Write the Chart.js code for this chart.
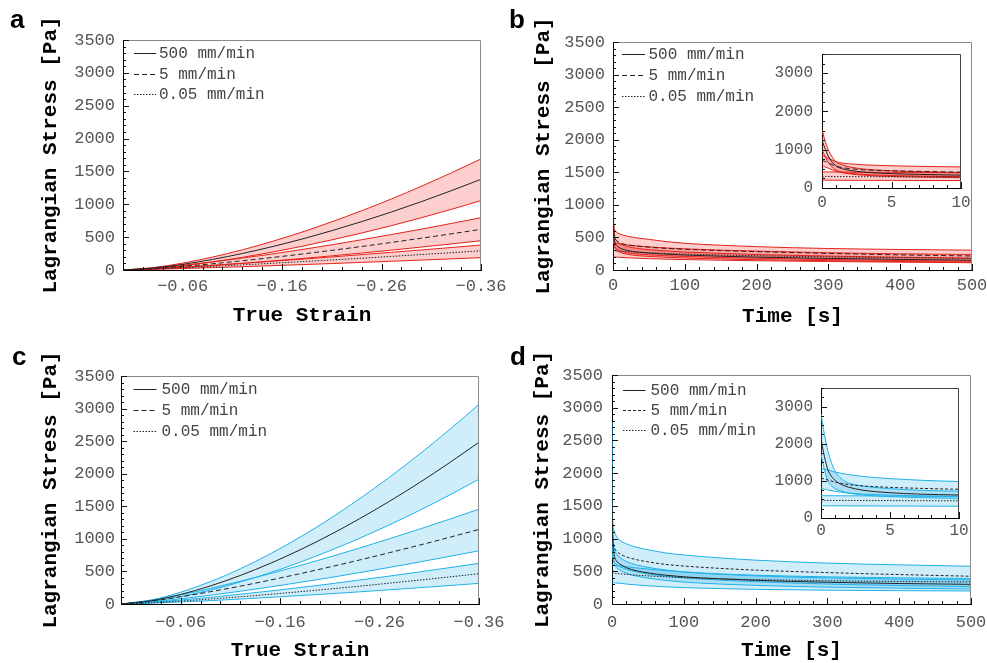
<!DOCTYPE html>
<html>
<head>
<meta charset="utf-8">
<script src="https://cdn.jsdelivr.net/npm/chart.js@4.4.1/dist/chart.umd.min.js"></script>
<style>
body { margin: 0; background: #fff; }
#fig { position: relative; width: 987px; height: 663px; overflow: hidden; }
canvas { position: absolute; }
.tag { position: absolute; font: bold 26px "Liberation Sans", Arial, sans-serif; line-height: 26px; color: #000; }
</style>
</head>
<body>
<div id="fig">
  <canvas id="chartA" width="530" height="330" style="left:0;top:0"></canvas>
  <canvas id="chartB" width="487" height="330" style="left:500px;top:0"></canvas>
  <canvas id="chartC" width="530" height="333" style="left:0;top:330px"></canvas>
  <canvas id="chartD" width="487" height="333" style="left:500px;top:330px"></canvas>
  <canvas id="insetB" width="205" height="170" style="left:765px;top:48px"></canvas>
  <canvas id="insetD" width="205" height="170" style="left:765px;top:382px"></canvas>
  <div class="tag" style="left:10px;top:6px">a</div>
  <div class="tag" style="left:509px;top:6px">b</div>
  <div class="tag" style="left:12px;top:343px">c</div>
  <div class="tag" style="left:510px;top:343px">d</div>
</div>
<script>
// ---- data ----
const rates = ['500 mm/min', '5 mm/min', '0.05 mm/min'];
const stressTicks = [0, 500, 1000, 1500, 2000, 2500, 3000, 3500];
const insetStressTicks = [0, 1000, 2000, 3000];

// ramp (a, c): true strain
const strain = [0, -0.03, -0.06, -0.09, -0.12, -0.15, -0.18, -0.21, -0.24, -0.27, -0.30, -0.33, -0.36];
const strainTicks = [-0.06, -0.16, -0.26, -0.36];

const aFastMean = [0, 29, 86, 161, 251, 355, 471, 599, 736, 883, 1040, 1206, 1380];
const aFastHi   = [0, 36, 105, 197, 307, 435, 577, 734, 902, 1082, 1274, 1477, 1690];
const aFastLo   = [0, 22, 66, 123, 192, 272, 360, 458, 563, 675, 795, 922, 1055];
const aMidMean  = [0, 22, 55, 95, 141, 190, 243, 299, 358, 420, 484, 550, 619];
const aMidHi    = [0, 28, 71, 123, 181, 244, 312, 384, 461, 540, 622, 708, 796];
const aMidLo    = [0, 16, 40, 69, 101, 137, 175, 215, 258, 302, 349, 396, 446];
const aSlowMean = [0, 15, 34, 55, 78, 102, 127, 153, 179, 207, 235, 263, 292];
const aSlowHi   = [0, 19, 44, 72, 102, 133, 165, 199, 234, 269, 305, 342, 380];
const aSlowLo   = [0, 10, 22, 36, 50, 66, 82, 98, 116, 133, 151, 169, 188];

const cFastMean = [0, 49, 147, 278, 438, 623, 831, 1060, 1310, 1577, 1862, 2165, 2484];
const cFastHi   = [0, 60, 181, 343, 541, 769, 1026, 1308, 1617, 1946, 2299, 2672, 3066];
const cFastLo   = [0, 38, 113, 214, 338, 480, 641, 818, 1010, 1216, 1436, 1670, 1916];
const cMidMean  = [0, 45, 111, 189, 274, 367, 465, 568, 676, 788, 903, 1022, 1145];
const cMidHi    = [0, 58, 142, 240, 349, 466, 591, 722, 859, 1002, 1149, 1300, 1456];
const cMidLo    = [0, 32, 79, 135, 196, 262, 332, 405, 482, 562, 645, 730, 817];
const cSlowMean = [0, 18, 45, 77, 111, 149, 189, 231, 274, 320, 367, 415, 465];
const cSlowHi   = [0, 25, 61, 103, 150, 200, 253, 308, 368, 429, 492, 557, 624];
const cSlowLo   = [0, 13, 31, 52, 76, 102, 129, 157, 187, 218, 250, 283, 317];

// relaxation (b, d): time [s]
const time = [0, 0.25, 0.5, 1, 1.5, 2, 3, 5, 7, 10, 20, 35, 50, 75, 100, 150, 200, 300, 400, 500];
const timeTicks = [0, 100, 200, 300, 400, 500];
const insetTimeTicks = [0, 5, 10];

const bFastMean = [1250, 1000, 800, 580, 500, 460, 415, 375, 355, 335, 300, 275, 260, 243, 230, 212, 198, 178, 163, 150];
const bFastHi   = [1520, 1200, 960, 690, 600, 550, 495, 450, 425, 400, 360, 330, 312, 292, 276, 255, 238, 214, 196, 182];
const bFastLo   = [1000, 800, 640, 470, 405, 370, 335, 300, 285, 270, 240, 220, 208, 195, 184, 170, 158, 143, 130, 120];
const bMidMean  = [720, 690, 650, 570, 530, 505, 475, 450, 435, 415, 385, 365, 350, 332, 318, 298, 282, 255, 232, 215];
const bMidHi    = [860, 820, 770, 690, 650, 630, 605, 580, 565, 550, 520, 490, 470, 435, 410, 380, 358, 330, 315, 305];
const bMidLo    = [580, 545, 510, 440, 400, 380, 350, 325, 310, 295, 265, 245, 232, 218, 208, 192, 180, 160, 145, 135];
const bSlowMean = [300, 300, 299, 298, 297, 296, 295, 293, 291, 289, 282, 272, 264, 253, 244, 230, 219, 202, 188, 178];
const bSlowHi   = [420, 420, 419, 418, 416, 415, 412, 408, 405, 400, 385, 368, 355, 338, 325, 305, 290, 265, 248, 238];
const bSlowLo   = [205, 205, 204, 203, 202, 201, 200, 198, 196, 194, 188, 180, 174, 166, 160, 150, 142, 130, 120, 112];

const dFastMean = [2120, 1650, 1300, 1020, 900, 830, 750, 680, 645, 618, 555, 505, 475, 440, 415, 385, 362, 332, 313, 300];
const dFastHi   = [2800, 2250, 1800, 1280, 1050, 940, 860, 790, 750, 720, 650, 595, 560, 520, 490, 455, 430, 400, 380, 368];
const dFastLo   = [1710, 1300, 1000, 800, 720, 670, 620, 575, 550, 527, 470, 425, 395, 360, 335, 305, 285, 258, 242, 230];
const dMidMean  = [1073, 1050, 1020, 970, 930, 900, 865, 825, 800, 773, 720, 675, 645, 605, 580, 545, 518, 480, 450, 424];
const dMidHi    = [1345, 1320, 1290, 1240, 1200, 1170, 1120, 1060, 1020, 982, 920, 865, 830, 780, 750, 705, 670, 625, 598, 577];
const dMidLo    = [800, 780, 755, 720, 690, 670, 645, 615, 595, 575, 530, 490, 460, 425, 400, 365, 340, 305, 282, 265];
const dSlowMean = [473, 473, 473, 472, 472, 471, 470, 468, 466, 463, 453, 440, 430, 415, 403, 385, 372, 355, 345, 337];
const dSlowHi   = [600, 600, 600, 599, 598, 597, 595, 592, 589, 585, 570, 550, 535, 510, 490, 460, 440, 415, 400, 390];
const dSlowLo   = [327, 327, 327, 326, 326, 325, 324, 322, 320, 318, 305, 290, 278, 262, 250, 235, 224, 211, 204, 199];

// ---- styling ----
const MONO = '"Liberation Mono", "Courier New", monospace';
const RED = {edge: '#e2231a', fill: 'rgba(240, 30, 30, 0.22)'};
const BLUE = {edge: '#1fb1e6', fill: 'rgba(40, 175, 230, 0.22)'};

function marks(from, to, step) {
    const out = [];
    for (let v = from; v <= to + step / 1000; v += step) out.push(+v.toFixed(6));
    return out;
}
const near = (v, list) => list.some(m => Math.abs(m - v) < 1e-6);

// frame (top/right) and inward tick marks
const innerTicks = {
    id: 'innerTicks',
    afterDatasetsDraw(chart, args, o) {
        const {ctx, chartArea: a, scales} = chart;
        ctx.save();
        ctx.lineWidth = 1;
        ctx.strokeStyle = o.edge;
        ctx.beginPath();
        ctx.moveTo(a.left, a.top + 0.5);
        ctx.lineTo(a.right - 0.5, a.top + 0.5);
        ctx.lineTo(a.right - 0.5, a.bottom);
        ctx.stroke();
        ctx.strokeStyle = '#111';
        ctx.beginPath();
        o.xMarks.forEach(v => {
            const px = Math.round(scales.x.getPixelForValue(v)) + 0.5;
            ctx.moveTo(px, a.bottom);
            ctx.lineTo(px, a.bottom - (near(v, o.xMajor) ? 6 : 3));
        });
        o.yMarks.forEach(v => {
            const py = Math.round(scales.y.getPixelForValue(v)) + 0.5;
            ctx.moveTo(a.left, py);
            ctx.lineTo(a.left + (near(v, o.yMajor) ? 6 : 3), py);
        });
        ctx.stroke();
        ctx.restore();
    }
};

// legend inside the plot, top left
const rateLegend = {
    id: 'rateLegend',
    afterDraw(chart, args, o) {
        const {ctx, chartArea: a} = chart;
        const items = chart.data.datasets.filter(d => d.label);
        ctx.save();
        ctx.font = '16px ' + MONO;
        ctx.textBaseline = 'middle';
        items.forEach((d, i) => {
            const y = Math.round(a.top + o.top + i * o.gap) + 0.5;
            const x = a.left + o.left;
            ctx.strokeStyle = '#222';
            ctx.lineWidth = 1;
            ctx.setLineDash(d.borderDash || []);
            ctx.beginPath();
            ctx.moveTo(x, y);
            ctx.lineTo(x + o.len, y);
            ctx.stroke();
            ctx.setLineDash([]);
            ctx.fillStyle = '#444';
            ctx.fillText(d.label, a.left + o.textX, y);
        });
        ctx.restore();
    }
};

function band(xs, lo, hi, mean, col, dash, label) {
    const pts = arr => xs.map((x, i) => ({x: x, y: arr[i]}));
    return [
        {data: pts(lo), borderColor: col.edge, borderWidth: 1, fill: false, order: 1},
        {data: pts(hi), borderColor: col.edge, borderWidth: 1, fill: '-1', backgroundColor: col.fill, order: 1},
        {data: pts(mean), borderColor: '#222', borderWidth: 1, borderDash: dash, fill: false, order: 0, label: label}
    ];
}

function buildChart(id, p) {
    const datasets = [];
    p.groups.forEach((g, i) => {
        datasets.push(...band(p.xs, g[0], g[1], g[2], p.col, p.dash[i], p.legend ? rates[i] : undefined));
    });
    const fontSize = p.inset ? 16 : 17;
    return new Chart(document.getElementById(id), {
        type: 'line',
        data: {datasets: datasets},
        options: {
            responsive: false,
            animation: false,
            events: [],
            layout: {padding: {left: 0, top: p.pt, right: p.pr, bottom: 0}},
            elements: {line: {cubicInterpolationMode: 'monotone'}, point: {radius: 0}},
            plugins: {
                legend: {display: false},
                tooltip: {enabled: false},
                innerTicks: {edge: p.inset ? '#444' : '#8a8a8a', xMarks: p.xMarks, xMajor: p.xTicks, yMarks: p.yMarks, yMajor: p.yTicks},
                rateLegend: p.legend || false
            },
            scales: {
                x: {
                    type: 'linear', min: p.xMin, max: p.xMax, reverse: !!p.reverse,
                    afterBuildTicks: s => { s.ticks = p.xTicks.map(v => ({value: v})); },
                    afterFit: s => { s.height = p.xH; s.paddingLeft = 0; s.paddingRight = 0; },
                    grid: {display: false, drawTicks: false},
                    border: {color: '#000', width: 1},
                    ticks: {
                        font: {family: MONO, size: fontSize}, color: '#555', padding: p.xPad,
                        maxRotation: 0, autoSkip: false,
                        callback: v => p.reverse ? v.toFixed(2).replace('-', '\u2212') : String(v)
                    },
                    title: {
                        display: !!p.xTitle, text: p.xTitle, color: '#000',
                        font: {family: MONO, size: 21, weight: 'bold'},
                        padding: {top: 0, bottom: p.xTitlePad}
                    }
                },
                y: {
                    type: 'linear', min: 0, max: 3500,
                    afterBuildTicks: s => { s.ticks = p.yTicks.map(v => ({value: v})); },
                    afterFit: s => { s.width = p.yW; s.paddingTop = 0; s.paddingBottom = 0; },
                    grid: {display: false, drawTicks: false},
                    border: {color: '#000', width: 1},
                    ticks: {font: {family: MONO, size: fontSize}, color: '#555', padding: p.yPad, callback: v => String(v)},
                    title: {
                        display: !p.inset, text: 'Lagrangian Stress [Pa]', color: '#000',
                        font: {family: MONO, size: 21, weight: 'bold'},
                        padding: {top: p.yTitlePad, bottom: 0}
                    }
                }
            }
        },
        plugins: [innerTicks, rateLegend]
    });
}

const rampX = {xs: strain, xMin: -0.36, xMax: 0, reverse: true, xTicks: strainTicks,
    xMarks: marks(-0.36, 0, 0.02), yTicks: stressTicks, yMarks: marks(0, 3500, 100), xTitle: 'True Strain'};
const relaxX = {xs: time, xMin: 0, xMax: 500, xTicks: timeTicks,
    xMarks: marks(0, 500, 20), yTicks: stressTicks, yMarks: marks(0, 3500, 100), xTitle: 'Time [s]'};
const insetX = {xs: time, xMin: 0, xMax: 10, xTicks: insetTimeTicks, inset: true,
    xMarks: marks(0, 10, 1), yTicks: insetStressTicks, yMarks: marks(0, 3500, 250)};

buildChart('chartA', Object.assign({}, rampX, {
    col: RED, dash: [[], [5, 3], [1.5, 1.5]],
    groups: [[aFastLo, aFastHi, aFastMean], [aMidLo, aMidHi, aMidMean], [aSlowLo, aSlowHi, aSlowMean]],
    pt: 40, pr: 49, yW: 123, xH: 60, xPad: 6, yPad: 8, yTitlePad: 38, xTitlePad: 2,
    legend: {left: 11, top: 13, len: 22, textX: 36, gap: 20.7}
}));
buildChart('chartB', Object.assign({}, relaxX, {
    col: RED, dash: [[], [5, 3], [1.5, 1.5]],
    groups: [[bFastLo, bFastHi, bFastMean], [bMidLo, bMidHi, bMidMean], [bSlowLo, bSlowHi, bSlowMean]],
    pt: 42, pr: 15, yW: 113, xH: 60, xPad: 5, yPad: 8, yTitlePad: 31, xTitlePad: 1,
    legend: {left: 9, top: 11.5, len: 23, textX: 35.5, gap: 21.2}
}));
buildChart('chartC', Object.assign({}, rampX, {
    col: BLUE, dash: [[], [5, 3], [1.5, 1.5]],
    groups: [[cFastLo, cFastHi, cFastMean], [cMidLo, cMidHi, cMidMean], [cSlowLo, cSlowHi, cSlowMean]],
    pt: 46, pr: 51, yW: 121, xH: 59, xPad: 8, yPad: 6, yTitlePad: 38.5, xTitlePad: 0,
    legend: {left: 12.5, top: 12.5, len: 23, textX: 40.5, gap: 21}
}));
buildChart('chartD', Object.assign({}, relaxX, {
    col: BLUE, dash: [[], [3, 2], [1.5, 1.5]],
    groups: [[dFastLo, dFastHi, dFastMean], [dMidLo, dMidHi, dMidMean], [dSlowLo, dSlowHi, dSlowMean]],
    pt: 45, pr: 16, yW: 112, xH: 59, xPad: 8, yPad: 9, yTitlePad: 30.5, xTitlePad: 0,
    legend: {left: 11, top: 15, len: 22.5, textX: 38.5, gap: 20}
}));
buildChart('insetB', Object.assign({}, insetX, {
    col: RED, dash: [[], [5, 3], [1.5, 1.5]],
    groups: [[bFastLo, bFastHi, bFastMean], [bMidLo, bMidHi, bMidMean], [bSlowLo, bSlowHi, bSlowMean]],
    pt: 6, pr: 9, yW: 57, xH: 30, xPad: 5, yPad: 9
}));
buildChart('insetD', Object.assign({}, insetX, {
    col: BLUE, dash: [[], [3, 2], [1.5, 1.5]],
    groups: [[dFastLo, dFastHi, dFastMean], [dMidLo, dMidHi, dMidMean], [dSlowLo, dSlowHi, dSlowMean]],
    pt: 6, pr: 11, yW: 56, xH: 34, xPad: 3, yPad: 8
}));
</script>
</body>
</html>
